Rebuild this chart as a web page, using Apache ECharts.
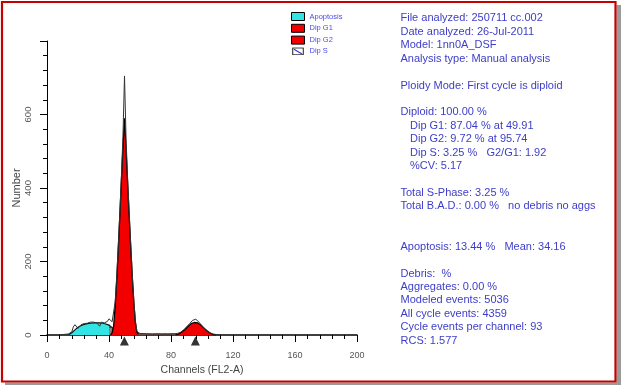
<!DOCTYPE html>
<html>
<head>
<meta charset="utf-8">
<script src="https://cdn.jsdelivr.net/npm/echarts@6/dist/echarts.min.js"></script>
<style>
html,body{margin:0;padding:0;background:#fff;}
#chart{width:621px;height:385px;}
</style>
</head>
<body>
<div id="chart"></div>
<script>
// ---------- DATA ----------
const xTickLabels = [0, 40, 80, 120, 160, 200];
const yTickLabels = [0, 200, 400, 600];

// measured histogram (counts per channel), starting at channel 8
const histStart = 8;
const histogram = [1,1,1,1,2,2,3,5,9,22,28,27,18,20,28,30,31,33,32,33,35,34,35,33,33,34,24,35,34,33,31,37,44,46,36,35,90,160,245,335,430,540,705,535,425,335,250,165,95,38,10,5,4,3,4,3,3,4,3,3,2,3,3,4,3,3,2,3,3,3,2,3,3,3,3,4,4,5,7,10,13,17,22,27,31,36,40,43,43,40,35,30,25,20,16,12,9,6,4,3,2,2,1,1,0];

// Apoptosis model, starting at channel 14
const apoStart = 14;
const apoptosis = [1,3,6,10,14,18,21,24,26,28,29,30,31,32,32,33,33,33,33,33,33,32,32,31,30,29,27,24,20,15,10,6,3,1,0];

// Dip G1 model, starting at channel 41
const g1Start = 41;
const dipG1 = [0,6,25,80,150,235,325,420,510,590,505,415,325,240,160,90,35,8,2,0];

// Dip G2 model, starting at channel 83
const g2Start = 83;
const dipG2 = [0,2,3,5,8,11,15,19,23,27,31,33,34,34,33,31,28,24,20,16,12,9,6,4,2,1,0];

// Dip S model, starting at channel 40
const sStart = 40;
const dipS = [22,22,20,16,12,9,6,4,3,3,3,3,3,3,3,3,3,3,3,3,3,3,3,3,3,3,3,3,3,3,3,3,3,3,3,3,3,3,3,3,3,3,3,3,3,3,3,3,3,3,3,3,3,3,3,3,3,0];

// peak means (G1, G2)
const peakMeans = [49.91, 95.74];

const legendNames = ['Apoptosis', 'Dip G1', 'Dip G2', 'Dip S'];

const panelLines = [
  'File analyzed: 250711 cc.002',
  'Date analyzed: 26-Jul-2011',
  'Model: 1nn0A_DSF',
  'Analysis type: Manual analysis',
  '',
  'Ploidy Mode: First cycle is diploid',
  '',
  'Diploid: 100.00 %',
  '  Dip G1: 87.04 % at 49.91',
  '  Dip G2: 9.72 % at 95.74',
  '  Dip S: 3.25 %   G2/G1: 1.92',
  '  %CV: 5.17',
  '',
  'Total S-Phase: 3.25 %',
  'Total B.A.D.: 0.00 %   no debris no aggs',
  '',
  '',
  'Apoptosis: 13.44 %   Mean: 34.16',
  '',
  'Debris:  %',
  'Aggregates: 0.00 %',
  'Modeled events: 5036',
  'All cycle events: 4359',
  'Cycle events per channel: 93',
  'RCS: 1.577'
];

// ---------- BUILD ----------
const toPairs = (start, arr) => arr.map((v, i) => [start + i, v]);

const FONT = '"Liberation Sans", Arial, sans-serif';
const RED = '#f20000';
const CYAN = '#33e4e4';
const TEXTBLUE = '#3d3dc9';

const hatchSvg = 'image://data:image/svg+xml;utf8,' + encodeURIComponent(
  '<svg xmlns="http://www.w3.org/2000/svg" width="13" height="9"><rect x="0.5" y="0.5" width="12" height="8" fill="#fff" stroke="#000" stroke-width="1.2"/><line x1="2" y1="2" x2="11" y2="7.5" stroke="#3333cc" stroke-width="1.3"/></svg>');

const graphics = [];
// frame
graphics.push({type:'rect', z:-10, shape:{x:616.5, y:5, width:5, height:381}, style:{fill:'#9a9a9a'}, silent:true});
graphics.push({type:'rect', z:-10, shape:{x:5, y:382.5, width:617, height:3}, style:{fill:'#9a9a9a'}, silent:true});
graphics.push({type:'rect', z:-10, shape:{x:2, y:2, width:613.5, height:379.5}, style:{fill:'none', stroke:'#c40000', lineWidth:2.2}, silent:true});
// text panel
panelLines.forEach((line, i) => {
  if (!line) return;
  const indent = line.startsWith('  ');
  graphics.push({
    type:'text', z:10,
    x: indent ? 410 : 400.5,
    y: 18.4 + i * 13.43,
    style:{text: line.trim(), font: '11px ' + FONT, fill: TEXTBLUE, textVerticalAlign:'middle'}
  });
});

const chart = echarts.init(document.getElementById('chart'), null, {renderer:'canvas'});
chart.setOption({
  animation:false,
  backgroundColor:'#fff',
  grid:{left:47, right:264, top:41, bottom:50, containLabel:false},
  legend:{
    orient:'vertical', left:291, top:12, padding:0,
    itemWidth:13, itemHeight:8, itemGap:2.8,
    textStyle:{fontSize:7.5, color:'#4c4ce6', fontFamily:FONT},
    itemStyle:{borderColor:'#000', borderWidth:1},
    selectedMode:false,
    data:[
      {name:legendNames[0], icon:'rect'},
      {name:legendNames[1], icon:'rect'},
      {name:legendNames[2], icon:'rect'},
      {name:legendNames[3], icon:hatchSvg}
    ]
  },
  xAxis:{
    type:'value', min:0, max:200, interval:40,
    name:'Channels (FL2-A)', nameLocation:'middle', nameGap:23,
    nameTextStyle:{fontSize:10.5, color:'#444', fontFamily:FONT},
    axisLine:{lineStyle:{color:'#000', width:1.5}},
    axisTick:{length:7, lineStyle:{color:'#000'}},
    minorTick:{show:true, splitNumber:5, length:4, lineStyle:{color:'#000'}},
    axisLabel:{fontSize:9, color:'#555', margin:16, fontFamily:FONT,
      formatter: v => xTickLabels.includes(v) ? String(v) : ''},
    splitLine:{show:false}
  },
  yAxis:{
    type:'value', min:0, max:800, interval:200,
    name:'Number', nameLocation:'middle', nameGap:20,
    nameTextStyle:{fontSize:11, color:'#444', fontFamily:FONT},
    axisLine:{show:true, lineStyle:{color:'#000', width:1}},
    axisTick:{show:true, length:7, lineStyle:{color:'#000'}},
    minorTick:{show:true, splitNumber:5, length:4, lineStyle:{color:'#000'}},
    axisLabel:{fontSize:9.5, color:'#555', rotate:90, margin:14, showMaxLabel:false, fontFamily:FONT,
      formatter: v => yTickLabels.includes(v) ? String(v) : ''},
    splitLine:{show:false}
  },
  series:[
    {
      name:legendNames[0], type:'line', z:2, symbol:'none', silent:true,
      data: toPairs(apoStart, apoptosis),
      itemStyle:{color:CYAN},
      lineStyle:{color:'#111', width:1.2},
      areaStyle:{color:CYAN, opacity:1}
    },
    {
      name:legendNames[3], type:'line', z:3, symbol:'none', silent:true,
      data: toPairs(sStart, dipS),
      itemStyle:{color:'#ffffff'},
      lineStyle:{color:'#333', width:1},
      areaStyle:{color:'rgba(170,105,95,0.85)', opacity:1}
    },
    {
      name:legendNames[1], type:'line', z:4, symbol:'none', silent:true,
      data: toPairs(g1Start, dipG1),
      itemStyle:{color:RED},
      lineStyle:{color:'#000', width:1.3},
      areaStyle:{color:RED, opacity:1}
    },
    {
      name:legendNames[2], type:'line', z:4, symbol:'none', silent:true,
      data: toPairs(g2Start, dipG2),
      itemStyle:{color:RED},
      lineStyle:{color:'#000', width:1.3},
      areaStyle:{color:RED, opacity:1}
    },
    {
      name:'Data', type:'line', z:5, symbol:'none', silent:true,
      data: toPairs(histStart, histogram),
      lineStyle:{color:'#333', width:1}
    },
    {
      name:'Peaks', type:'scatter', z:6, silent:true, clip:false,
      data: peakMeans.map(m => [m, 0]),
      symbol:'triangle', symbolSize:[9,9], symbolOffset:[0,6],
      itemStyle:{color:'#000'}
    }
  ],
  graphic: graphics
});
</script>
</body>
</html>
